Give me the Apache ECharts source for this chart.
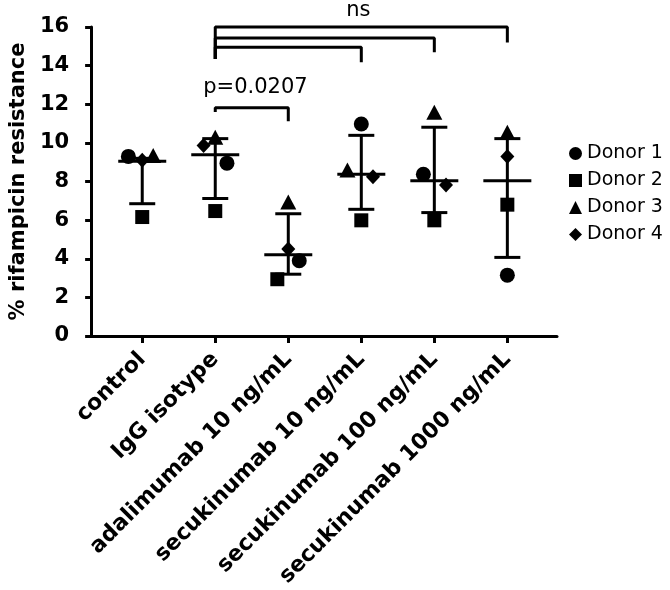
<!DOCTYPE html>
<html>
<head>
<meta charset="utf-8">
<script src="https://cdn.jsdelivr.net/npm/echarts@6/dist/echarts.min.js"></script>
<style>
  html, body { margin: 0; padding: 0; background: #fff; }
  #chart { width: 670px; height: 590px; }
</style>
</head>
<body>
<div id="chart"></div>
<script>
var categories = ['control', 'IgG isotype', 'adalimumab 10 ng/mL', 'secukinumab 10 ng/mL', 'secukinumab 100 ng/mL', 'secukinumab 1000 ng/mL'];
var yTicks = [0, 2, 4, 6, 8, 10, 12, 14, 16];

// % rifampicin resistance per donor
var donor1 = [9.3, 8.95, 3.9, 10.98, 8.37, 3.15];
var donor2 = [6.16, 6.47, 2.94, 5.99, 5.99, 6.8];
var donor3 = [9.35, 10.29, 6.94, 8.6, 11.59, 10.55];
var donor4 = [9.1, 9.87, 4.51, 8.25, 7.82, 9.3];
// horizontal spread of the dots (in category units)
var jitter1 = [-0.19, 0.16, 0.15, 0, -0.15, 0];
var jitter2 = [0, 0, -0.15, 0, 0, 0];
var jitter3 = [0.15, 0, 0, -0.19, 0, 0];
var jitter4 = [0, -0.16, 0, 0.16, 0.16, 0];

// centre line and whiskers
var centre = [9.05, 9.38, 4.21, 8.37, 8.04, 8.04];
var whiskerLow = [6.85, 7.12, 3.2, 6.56, 6.39, 4.07];
var whiskerHigh = [9.2, 10.22, 6.33, 10.39, 10.81, 10.22];

// significance brackets: [from, to, bar height, left end, right end]
var brackets = [
  [1, 2, 11.82, 11.6, 11.12],
  [1, 5, 16.0, 14.34, 15.2],
  [1, 4, 15.43, 14.34, 14.69],
  [1, 3, 14.95, 14.34, 14.17]
];
var bracketText = [
  [1.55, 12.86, 'p=0.0207'],
  [2.96, 16.87, 'ns']
];

var donorNames = ['Donor 1', 'Donor 2', 'Donor 3', 'Donor 4'];
var donorValues = [donor1, donor2, donor3, donor4];
var donorJitter = [jitter1, jitter2, jitter3, jitter4];
var donorSymbols = ['circle', 'rect', 'triangle', 'diamond'];
var donorSizes = [[15, 15], [14, 14], [16, 15], [14, 15]];

var FONT = '"DejaVu Sans", "Liberation Sans", Arial, sans-serif';

var chart = echarts.init(document.getElementById('chart'), null, { renderer: 'canvas' });

var series = [];

// error bars
series.push({
  type: 'custom',
  name: 'errorbars',
  clip: false,
  silent: true,
  z: 3,
  data: centre.map(function (c, i) { return [i, c, whiskerLow[i], whiskerHigh[i]]; }),
  renderItem: function (params, api) {
    var x = api.value(0);
    var pc = api.coord([x, api.value(1)]);
    var pl = api.coord([x, api.value(2)]);
    var ph = api.coord([x, api.value(3)]);
    var st = { stroke: '#000', lineWidth: 3 };
    return {
      type: 'group',
      children: [
        { type: 'line', shape: { x1: pc[0], y1: pl[1], x2: pc[0], y2: ph[1] }, style: st },
        { type: 'line', shape: { x1: pc[0] - 24, y1: pc[1], x2: pc[0] + 24, y2: pc[1] }, style: st },
        { type: 'line', shape: { x1: pc[0] - 13, y1: pl[1], x2: pc[0] + 13, y2: pl[1] }, style: st },
        { type: 'line', shape: { x1: pc[0] - 13, y1: ph[1], x2: pc[0] + 13, y2: ph[1] }, style: st }
      ]
    };
  }
});

// donor dots
donorNames.forEach(function (name, d) {
  series.push({
    type: 'scatter',
    name: name,
    symbol: donorSymbols[d],
    symbolSize: donorSizes[d],
    itemStyle: { color: '#000', opacity: 1 },
    z: 4,
    data: donorValues[d].map(function (v, i) { return [i + donorJitter[d][i], v]; })
  });
});

// brackets
brackets.forEach(function (b, k) {
  series.push({
    type: 'line',
    name: 'bracket' + k,
    clip: false,
    silent: true,
    symbol: 'none',
    lineStyle: { color: '#000', width: 3 },
    z: 2,
    data: [[b[0], b[3]], [b[0], b[2]], [b[1], b[2]], [b[1], b[4]]]
  });
});

// bracket labels
series.push({
  type: 'scatter',
  name: 'labels',
  silent: true,
  clip: false,
  symbolSize: 0,
  itemStyle: { opacity: 1 },
  label: {
    show: true,
    position: 'inside',
    color: '#000',
    fontFamily: FONT,
    fontSize: 21,
    formatter: function (p) { return p.data[2]; }
  },
  data: bracketText
});

var option = {
  backgroundColor: '#fff',
  animation: false,
  grid: { left: 91, right: 113, top: 27, bottom: 254, containLabel: false },
  legend: {
    data: donorNames,
    orient: 'vertical',
    left: 564,
    top: 139,
    itemWidth: 13,
    itemHeight: 13,
    itemGap: 8,
    textStyle: { color: '#000', fontFamily: FONT, fontSize: 19 },
    selectedMode: false
  },
  xAxis: {
    type: 'value',
    min: -0.7,
    max: 5.68,
    splitLine: { show: false },
    axisLine: { show: true, onZero: false, lineStyle: { color: '#000', width: 3 } },
    axisTick: { show: true, customValues: [0, 1, 2, 3, 4, 5], length: 7, lineStyle: { color: '#000', width: 3 } },
    axisLabel: {
      customValues: [0, 1, 2, 3, 4, 5],
      rotate: 45,
      margin: 20,
      color: '#000',
      fontFamily: FONT,
      fontSize: 22,
      fontWeight: 'bold',
      formatter: function (v) { return categories[Math.round(v)]; }
    }
  },
  yAxis: {
    type: 'value',
    min: 0,
    max: 16,
    interval: 2,
    name: '% rifampicin resistance',
    nameLocation: 'middle',
    nameGap: 60,
    nameTextStyle: { color: '#000', fontFamily: FONT, fontSize: 21, fontWeight: 'bold' },
    splitLine: { show: false },
    axisLine: { show: true, onZero: false, lineStyle: { color: '#000', width: 3 } },
    axisTick: { show: true, length: 6, lineStyle: { color: '#000', width: 3 } },
    axisLabel: {
      margin: 22,
      color: '#000',
      fontFamily: FONT,
      fontSize: 21,
      fontWeight: 'bold',
      formatter: function (v) { return yTicks.indexOf(v) >= 0 ? String(v) : ''; }
    }
  },
  series: series
};

chart.setOption(option);
</script>
</body>
</html>
